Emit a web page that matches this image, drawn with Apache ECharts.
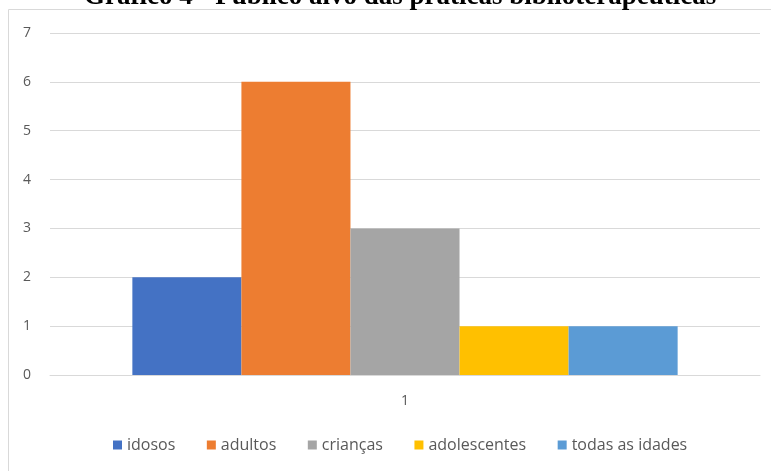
<!DOCTYPE html>
<html>
<head>
<meta charset="utf-8">
<script src="https://cdn.jsdelivr.net/npm/echarts@6/dist/echarts.min.js"></script>
<style>
html,body{margin:0;padding:0;background:#fff;}
#main{width:771px;height:471px;}
</style>
</head>
<body>
<div id="main"></div>
<script>
var categories = ['1'];
var seriesNames = ['idosos', 'adultos', 'crianças', 'adolescentes', 'todas as idades'];
var seriesValues = [2, 6, 3, 1, 1];
var seriesColors = ['#4472C4', '#ED7D31', '#A5A5A5', '#FFC000', '#5B9BD5'];
var yTicks = [0, 1, 2, 3, 4, 5, 6, 7];

var chart = echarts.init(document.getElementById('main'));
var font = '"Open Sans", "Noto Sans", sans-serif';
var series = seriesNames.map(function (n, i) {
  return {
    name: n,
    type: 'bar',
    data: [seriesValues[i]],
    itemStyle: { color: seriesColors[i] },
    barGap: '0%',
    barCategoryGap: '23.2%'
  };
});
chart.setOption({
  animation: false,
  color: seriesColors,
  title: {
    text: 'Gráfico 4 - Público alvo das práticas biblioterapêuticas',
    left: 84,
    top: -16,
    padding: 0,
    textStyle: { fontFamily: '"Liberation Serif", serif', fontWeight: 'bold', fontSize: 27, color: '#000' }
  },
  graphic: [{
    type: 'rect',
    shape: { x: 8.5, y: 9.5, width: 780, height: 480 },
    style: { fill: 'none', stroke: '#d9d9d9', lineWidth: 1 },
    z: -1
  }],
  grid: { left: 50, right: 11, top: 33, bottom: 96 },
  legend: {
    data: seriesNames,
    top: 432,
    left: 108,
    itemWidth: 9,
    itemHeight: 9,
    itemGap: 31.5,
    icon: 'rect',
    textStyle: { fontFamily: font, fontSize: 16, color: '#595959' }
  },
  xAxis: {
    type: 'category',
    data: categories,
    axisLine: { lineStyle: { color: '#d9d9d9' } },
    axisTick: { show: false },
    axisLabel: { color: '#595959', fontFamily: font, fontSize: 14, margin: 19 }
  },
  yAxis: {
    type: 'value',
    min: yTicks[0],
    max: yTicks[yTicks.length - 1],
    interval: 1,
    axisLine: { show: false },
    axisTick: { show: false },
    splitLine: { lineStyle: { color: '#d9d9d9' } },
    axisLabel: { color: '#595959', fontFamily: font, fontSize: 14, margin: 19 }
  },
  series: series
});
</script>
</body>
</html>
